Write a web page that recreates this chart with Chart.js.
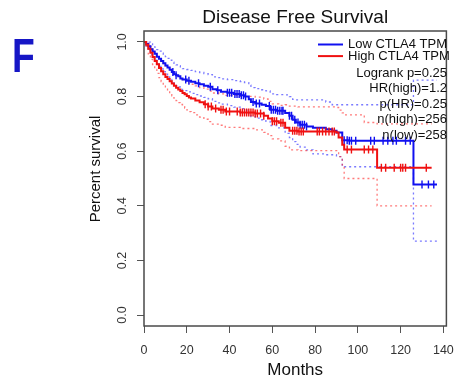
<!DOCTYPE html>
<html>
<head>
<meta charset="utf-8">
<script src="https://cdn.jsdelivr.net/npm/chart.js@4.4.1/dist/chart.umd.min.js"></script>
<style>
  html, body { margin: 0; padding: 0; background: #ffffff; }
  #wrap { width: 464px; height: 382px; }
</style>
</head>
<body>
<div id="wrap"><canvas id="km" width="464" height="382"></canvas></div>
<script>
// Kaplan-Meier estimates for disease free survival, split by CTLA4 expression.
// Times in months; each value is the survival right after the step at that time.
const lowTime  = [0, 1, 2, 3, 4, 5, 6, 7, 8, 9, 10, 11, 12, 13, 14, 15, 16, 17, 18, 20, 22, 24, 26, 28, 30, 32, 34, 36, 39, 42, 45, 47, 49, 50, 52, 55, 57, 59, 62, 66, 68, 69.5, 71, 73, 76, 79, 85, 88, 90, 92.7, 96, 126, 137];
const lowSurv  = [1, 0.992, 0.984, 0.973, 0.965, 0.957, 0.946, 0.938, 0.93, 0.922, 0.914, 0.906, 0.898, 0.89, 0.882, 0.878, 0.874, 0.866, 0.862, 0.858, 0.854, 0.849, 0.845, 0.84, 0.836, 0.827, 0.823, 0.818, 0.814, 0.809, 0.805, 0.8, 0.79, 0.78, 0.775, 0.77, 0.765, 0.752, 0.748, 0.74, 0.73, 0.715, 0.705, 0.697, 0.69, 0.686, 0.68, 0.675, 0.668, 0.64, 0.638, 0.478, 0.478];
const lowUpper = [1, 1, 0.999, 0.993, 0.987, 0.981, 0.972, 0.966, 0.959, 0.953, 0.946, 0.94, 0.933, 0.926, 0.919, 0.916, 0.913, 0.906, 0.902, 0.899, 0.896, 0.891, 0.888, 0.884, 0.88, 0.872, 0.869, 0.865, 0.862, 0.858, 0.855, 0.851, 0.842, 0.833, 0.829, 0.825, 0.821, 0.81, 0.807, 0.806, 0.8, 0.79, 0.788, 0.788, 0.788, 0.788, 0.78, 0.77, 0.77, 0.77, 0.77, 0.86, 0.86];
const lowLower = [1, 0.981, 0.969, 0.953, 0.943, 0.933, 0.92, 0.91, 0.901, 0.891, 0.882, 0.872, 0.863, 0.854, 0.845, 0.84, 0.835, 0.826, 0.822, 0.817, 0.812, 0.807, 0.802, 0.797, 0.792, 0.782, 0.777, 0.772, 0.767, 0.761, 0.756, 0.75, 0.738, 0.727, 0.721, 0.715, 0.709, 0.694, 0.685, 0.665, 0.65, 0.635, 0.625, 0.615, 0.605, 0.59, 0.587, 0.587, 0.58, 0.543, 0.543, 0.271, 0.271];
const lowCensor = [13.5, 15, 19.5, 21, 25.5, 31, 34.5, 39, 40, 41, 42.5, 43.5, 44.5, 45.5, 46.5, 47.5, 51, 52.5, 54, 58.6, 59.5, 60.5, 61.5, 62.5, 63.5, 64.5, 65, 68, 69, 70.5, 72, 73, 74, 75, 76, 93.6, 95, 96, 97, 99, 106, 107.7, 111.8, 114, 116.4, 118, 122.3, 124.5, 130, 133, 135.5];

const highTime  = [0, 1, 2, 3, 4, 5, 6, 7, 8, 9, 10, 11, 12, 13, 14, 15, 16, 17, 18, 19, 20, 21, 22, 24, 26, 28, 30, 32, 35, 38, 45, 52, 56, 58, 60, 63, 66, 68, 72, 90, 91, 92.7, 93.6, 103, 109, 134.5];
const highSurv  = [1, 0.99, 0.975, 0.96, 0.945, 0.93, 0.918, 0.905, 0.893, 0.882, 0.872, 0.864, 0.856, 0.848, 0.84, 0.832, 0.826, 0.82, 0.813, 0.808, 0.802, 0.797, 0.793, 0.786, 0.779, 0.772, 0.764, 0.756, 0.752, 0.745, 0.742, 0.738, 0.73, 0.72, 0.71, 0.704, 0.686, 0.675, 0.672, 0.668, 0.65, 0.624, 0.606, 0.606, 0.539, 0.539];
const highUpper = [1, 1, 0.994, 0.984, 0.972, 0.96, 0.951, 0.94, 0.93, 0.921, 0.912, 0.906, 0.899, 0.892, 0.885, 0.878, 0.873, 0.868, 0.862, 0.858, 0.853, 0.849, 0.845, 0.839, 0.833, 0.827, 0.82, 0.813, 0.81, 0.804, 0.801, 0.798, 0.791, 0.782, 0.773, 0.768, 0.77, 0.765, 0.762, 0.76, 0.75, 0.74, 0.733, 0.705, 0.7, 0.7];
const highLower = [1, 0.978, 0.956, 0.936, 0.917, 0.899, 0.885, 0.869, 0.855, 0.842, 0.831, 0.821, 0.812, 0.803, 0.794, 0.785, 0.778, 0.771, 0.763, 0.758, 0.751, 0.745, 0.741, 0.733, 0.725, 0.717, 0.708, 0.699, 0.695, 0.687, 0.683, 0.678, 0.669, 0.657, 0.645, 0.638, 0.618, 0.605, 0.602, 0.602, 0.58, 0.55, 0.5, 0.5, 0.4, 0.4];
const highCensor = [28.6, 30, 31.5, 33.5, 36, 37, 38.5, 40, 43.6, 45, 46, 47, 48, 49, 50, 51, 52, 53, 54.5, 56, 60, 61, 62, 64, 65, 69.5, 70.5, 71.5, 72.5, 73.5, 74.5, 81, 82, 83.5, 85, 86.5, 88, 89, 95, 97, 103, 105, 107, 111, 113, 117, 120, 121, 122.3, 132];

const xTicks = [0, 20, 40, 60, 80, 100, 120, 140];
const yTicks = [0, 0.2, 0.4, 0.6, 0.8, 1.0];

const legendNames = ['Low CTLA4 TPM', 'High CTLA4 TPM'];
const statLines = ['Logrank p=0.25', 'HR(high)=1.2', 'p(HR)=0.25', 'n(high)=256', 'n(low)=258'];

const BLUE = '#1010f0';
const RED = '#f01010';
const BLUE_CI = 'rgba(40,40,255,0.62)';
const RED_CI = 'rgba(255,40,40,0.62)';
const FONT = '"Liberation Sans", Arial, Helvetica, sans-serif';

function toPoints(times, vals) {
  return times.map((t, i) => ({ x: t, y: vals[i] }));
}
// value of a step curve at time t
function stepValue(times, vals, t) {
  let v = vals[0];
  for (let i = 0; i < times.length; i++) {
    if (times[i] <= t) v = vals[i]; else break;
  }
  return v;
}
function censorPoints(cTimes, times, vals) {
  return cTimes.map(t => ({ x: t, y: stepValue(times, vals, t) }));
}

function curve(label, data, color, width, dash) {
  return {
    type: 'line', label, data,
    borderColor: color, borderWidth: width, borderDash: dash || [],
    borderCapStyle: 'butt', stepped: 'before', pointRadius: 0, fill: false, tension: 0
  };
}
function marks(label, data, color) {
  return {
    type: 'scatter', label, data,
    pointStyle: 'line', rotation: 90, pointRadius: 4, pointHoverRadius: 4,
    pointBorderColor: color, pointBackgroundColor: color, pointBorderWidth: 1.4
  };
}

// frame around the plotting region, panel letter, y-axis title and in-plot legend
const decorations = {
  id: 'decorations',
  afterDraw(chart) {
    const { ctx, chartArea: a } = chart;
    ctx.save();
    ctx.strokeStyle = '#4a4a4a';
    ctx.lineWidth = 1.5;
    ctx.strokeRect(a.left, a.top, a.right - a.left, a.bottom - a.top);

    ctx.save();
    ctx.fillStyle = '#1616c6';
    ctx.font = 'bold 49px ' + FONT;
    ctx.textAlign = 'left';
    ctx.textBaseline = 'alphabetic';
    ctx.translate(12, 72);
    ctx.scale(0.76, 1);
    ctx.fillText('F', 0, 0);
    ctx.restore();

    ctx.save();
    ctx.fillStyle = '#111';
    ctx.font = '15px ' + FONT;
    ctx.textAlign = 'center';
    ctx.textBaseline = 'middle';
    ctx.translate(96, 169);
    ctx.rotate(-Math.PI / 2);
    ctx.fillText('Percent survival', 0, 0);
    ctx.restore();

    ctx.font = '13px ' + FONT;
    ctx.textBaseline = 'middle';
    const colors = [BLUE, RED];
    legendNames.forEach((name, i) => {
      const y = 44.5 + i * 11.6;
      ctx.strokeStyle = colors[i];
      ctx.lineWidth = 2;
      ctx.beginPath();
      ctx.moveTo(318, y);
      ctx.lineTo(343, y);
      ctx.stroke();
      ctx.fillStyle = '#111';
      ctx.textAlign = 'left';
      ctx.fillText(name, 348, y);
    });
    ctx.textAlign = 'right';
    statLines.forEach((s, i) => {
      ctx.fillText(s, 447, 73 + i * 15.6);
    });
    ctx.restore();
  }
};

new Chart(document.getElementById('km'), {
  data: {
    datasets: [
      curve('High', toPoints(highTime, highSurv), RED, 2),
      marks('High censored', censorPoints(highCensor, highTime, highSurv), RED),
      curve('Low', toPoints(lowTime, lowSurv), BLUE, 2),
      marks('Low censored', censorPoints(lowCensor, lowTime, lowSurv), BLUE),
      curve('High upper', toPoints(highTime, highUpper), RED_CI, 1.3, [2, 3]),
      curve('High lower', toPoints(highTime, highLower), RED_CI, 1.3, [2, 3]),
      curve('Low upper', toPoints(lowTime, lowUpper), BLUE_CI, 1.3, [2, 3]),
      curve('Low lower', toPoints(lowTime, lowLower), BLUE_CI, 1.3, [2, 3])
    ]
  },
  options: {
    responsive: false,
    animation: false,
    devicePixelRatio: 1,
    layout: { padding: { left: 80, top: 0, right: 9, bottom: 0 } },
    plugins: {
      legend: { display: false },
      tooltip: { enabled: false },
      title: {
        display: true, fullSize: false,
        text: 'Disease Free Survival',
        color: '#111',
        font: { family: FONT, size: 19, weight: 'normal', lineHeight: 1.2 },
        padding: { top: 6, bottom: 2.2 }
      }
    },
    scales: {
      x: {
        type: 'linear', position: 'bottom', min: 0, max: 141.4,
        afterBuildTicks(s) { s.ticks = xTicks.map(v => ({ value: v })); },
        afterFit(s) { s.height = 56; },
        grid: { display: true, drawOnChartArea: false, drawTicks: true, tickLength: 7, color: '#555', lineWidth: 1 },
        border: { display: false },
        ticks: { color: '#333', font: { family: FONT, size: 12.5 }, padding: 10, maxRotation: 0, autoSkip: false },
        title: { display: true, text: 'Months', color: '#111', font: { family: FONT, size: 17 }, padding: { top: 0, bottom: 1 } }
      },
      y: {
        type: 'linear', position: 'left', min: -0.04, max: 1.04,
        afterBuildTicks(s) { s.ticks = yTicks.map(v => ({ value: v })); },
        afterFit(s) { s.width = 64; },
        grid: { display: true, drawOnChartArea: false, drawTicks: true, tickLength: 7, color: '#555', lineWidth: 1 },
        border: { display: false },
        ticks: {
          color: '#333', font: { family: FONT, size: 12.5 }, padding: 6,
          minRotation: 90, maxRotation: 90, crossAlign: 'center', autoSkip: false,
          callback: v => v.toFixed(1)
        },
        title: { display: false }
      }
    }
  },
  plugins: [decorations]
});
</script>
</body>
</html>
